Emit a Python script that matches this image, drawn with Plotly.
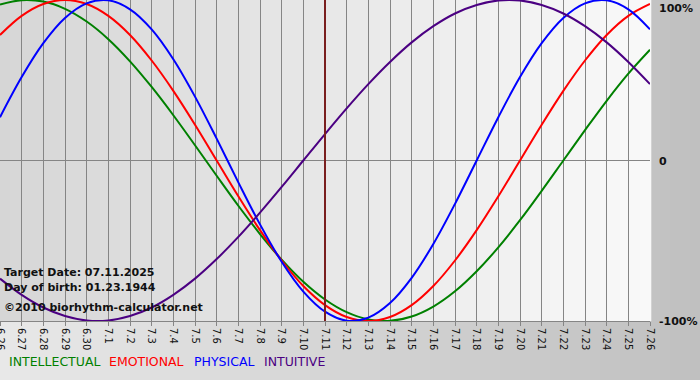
import plotly.graph_objects as go

# ---- data (daily values, 6.26 .. 7.26) ----
day_labels = ["6.26", "6.27", "6.28", "6.29", "6.30", "7.1", "7.2", "7.3", "7.4", "7.5",
              "7.6", "7.7", "7.8", "7.9", "7.10", "7.11", "7.12", "7.13", "7.14", "7.15",
              "7.16", "7.17", "7.18", "7.19", "7.20", "7.21", "7.22", "7.23", "7.24", "7.25", "7.26"]

intellectual = [0.972, 0.999, 0.990, 0.945, 0.866, 0.756, 0.618, 0.458, 0.282, 0.095,
                -0.095, -0.282, -0.458, -0.618, -0.756, -0.866, -0.945, -0.990, -0.999, -0.972,
                -0.910, -0.815, -0.690, -0.541, -0.372, -0.189, 0.000, 0.189, 0.372, 0.541, 0.690]
emotional = [0.782, 0.901, 0.975, 1.000, 0.975, 0.901, 0.782, 0.623, 0.434, 0.223,
             0.000, -0.223, -0.434, -0.623, -0.782, -0.901, -0.975, -1.000, -0.975, -0.901,
             -0.782, -0.623, -0.434, -0.223, 0.000, 0.223, 0.434, 0.623, 0.782, 0.901, 0.975]
physical = [0.270, 0.520, 0.731, 0.888, 0.979, 0.998, 0.942, 0.817, 0.631, 0.398,
            0.136, -0.136, -0.398, -0.631, -0.817, -0.942, -0.998, -0.979, -0.888, -0.731,
            -0.520, -0.270, 0.000, 0.270, 0.520, 0.731, 0.888, 0.979, 0.998, 0.942, 0.817]
intuitive = [-0.736, -0.837, -0.916, -0.969, -0.997, -0.997, -0.969, -0.916, -0.837, -0.736,
             -0.614, -0.476, -0.325, -0.165, 0.000, 0.165, 0.325, 0.476, 0.614, 0.736,
             0.837, 0.916, 0.969, 0.997, 0.997, 0.969, 0.916, 0.837, 0.736, 0.614, 0.476]

series_names = ["INTELLECTUAL", "EMOTIONAL", "PHYSICAL", "INTUITIVE"]
series_colors = ["#008000", "#ff0000", "#0000ff", "#4b0082"]
target_label = "7.11"
info_lines = ["Target Date: 07.11.2025", "Day of birth: 01.23.1944", "\u00a92010 biorhythm-calculator.net"]
y_labels = ["100%", "0", "-100%"]
y_label_vals = [1, 0, -1]

# ---- figure ----
W, H = 700, 380
ML, MR, MT, MB = 0, 50, 0, 59
PH = H - MT - MB  # plot height in px
PW = W - ML - MR

x = list(range(len(day_labels)))
fig = go.Figure()
for name, vals, col in zip(series_names, [intellectual, emotional, physical, intuitive], series_colors):
    fig.add_trace(go.Scatter(x=x, y=vals, mode="lines", name=name,
                             line=dict(color=col, width=2, shape="spline", smoothing=1.0),
                             hoverinfo="skip"))

shapes = []
# outer (paper) gradient
n_out = 70
for k in range(n_out):
    x0 = k * W / n_out
    x1 = (k + 1) * W / n_out
    t = (k + 0.5) / n_out
    c = int(round(232 - (232 - 192) * t))
    shapes.append(dict(type="rect", xref="paper", yref="paper",
                       x0=(x0 - ML) / PW, x1=(x1 - ML) / PW + 0.002,
                       y0=-MB / PH - 0.01, y1=1 + MT / PH + 0.01,
                       fillcolor=f"rgb({c},{c},{c})", line=dict(width=0), layer="below"))
# plot area gradient
n_in = 65
for k in range(n_in):
    t = (k + 0.5) / n_in
    c = int(round(214 + (249 - 214) * t))
    shapes.append(dict(type="rect", xref="paper", yref="paper",
                       x0=k / n_in, x1=(k + 1) / n_in + 0.002, y0=0, y1=1,
                       fillcolor=f"rgb({c},{c},{c})", line=dict(width=0), layer="below"))
# target date marker
ti = day_labels.index(target_label)
shapes.append(dict(type="line", xref="x", yref="paper", x0=ti, x1=ti, y0=0, y1=1,
                   line=dict(color="#7a1f1f", width=2), layer="above"))

annotations = []
font_b = "DejaVu Sans"
# info texts
for txt, py in zip(info_lines, [272, 287, 307]):
    annotations.append(dict(text=f"<b>{txt}</b>", xref="paper", yref="paper",
                            x=2 / PW, y=1 - py / PH, xanchor="left", yanchor="middle",
                            showarrow=False, font=dict(family=font_b, size=11, color="#111111")))
# right axis labels
for lab, v in zip(y_labels, y_label_vals):
    py = {1: 8, 0: 162, -1: 321}[v]
    annotations.append(dict(text=f"<b>{lab}</b>", xref="paper", yref="paper",
                            x=1, y=1 - py / PH, xanchor="left", yanchor="middle", xshift=7,
                            showarrow=False, font=dict(family=font_b, size=11, color="#111111")))
# legend texts
for name, col, px in zip(series_names, series_colors, [7, 107, 192, 262]):
    annotations.append(dict(text=name, xref="paper", yref="paper",
                            x=px / PW, y=1 - 361 / PH, xanchor="left", yanchor="middle",
                            showarrow=False, font=dict(family="DejaVu Sans", size=12.5, color=col)))

fig.update_layout(
    width=W, height=H,
    margin=dict(l=ML, r=MR, t=MT, b=MB, pad=0),
    paper_bgcolor="#d0d0d0",
    plot_bgcolor="rgba(0,0,0,0)",
    showlegend=False,
    shapes=shapes,
    annotations=annotations,
    xaxis=dict(range=[0, len(day_labels) - 1], tickmode="array", tickvals=x, ticktext=day_labels,
               tickangle=90, tickfont=dict(family="DejaVu Sans", size=10, color="#111111"),
               showgrid=True, gridcolor="#858585", gridwidth=1,
               ticks="outside", ticklen=4, tickcolor="#858585", automargin=False,
               ticklabeloverflow="allow",
               showline=True, linecolor="#858585", linewidth=1, zeroline=False, fixedrange=True),
    yaxis=dict(range=[-1, 1], showticklabels=False, showgrid=False, automargin=False,
               zeroline=True, zerolinecolor="#858585", zerolinewidth=1,
               showline=False, fixedrange=True),
)

fig.write_html("out.html", config={"displayModeBar": False, "staticPlot": True},
               post_script="document.body.style.margin='0';document.body.style.overflow='hidden';")
